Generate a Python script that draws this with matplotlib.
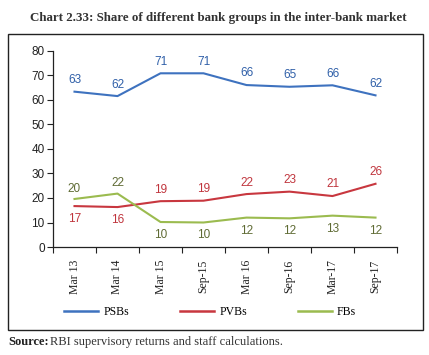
import matplotlib
matplotlib.use("Agg")
import matplotlib.pyplot as plt
from matplotlib.patches import Rectangle
from matplotlib.lines import Line2D

categories = ["Mar 13", "Mar 14", "Mar 15", "Sep-15", "Mar 16", "Sep-16", "Mar-17", "Sep-17"]
psb = [63.4, 61.6, 70.9, 70.9, 66.1, 65.4, 66.0, 61.9]
pvb = [16.7, 16.3, 18.7, 18.9, 21.6, 22.6, 20.8, 25.8]
fb = [19.6, 21.8, 10.2, 10.0, 12.0, 11.7, 12.8, 12.0]
psb_labels = [63, 62, 71, 71, 66, 65, 66, 62]
pvb_labels = [17, 16, 19, 19, 22, 23, 21, 26]
fb_labels = [20, 22, 10, 10, 12, 12, 13, 12]
yticks = [0, 10, 20, 30, 40, 50, 60, 70, 80]

c_psb = "#3e72bf"
c_pvb = "#c8373f"
c_fb = "#9bbb4f"
t_psb = "#2f5fa8"
t_pvb = "#c0353d"
t_fb = "#5f6b34"
serif = "Liberation Serif"

fig = plt.figure(figsize=(4.29, 3.55), dpi=100)
fig.patch.set_facecolor("white")

fig.text(0.508, 1 - 18 / 355, "Chart 2.33: Share of different bank groups in the inter-bank market",
         ha="center", va="center", fontsize=9.4, fontweight="bold",
         family=serif, color="#333333")

fig.patches.append(Rectangle((7.5 / 429, 1 - 329.5 / 355), (423 - 7.5) / 429, (329.5 - 33.5) / 355,
                             transform=fig.transFigure, fill=False, edgecolor="#222222", linewidth=1.0))

ax = fig.add_axes([53 / 429, 1 - 247 / 355, (397 - 53) / 429, (247 - 51) / 355])
x = list(range(len(categories)))
ax.plot(x, psb, color=c_psb, lw=1.5)
ax.plot(x, pvb, color=c_pvb, lw=1.5)
ax.plot(x, fb, color=c_fb, lw=1.5)

lab_font = dict(family="Liberation Sans", fontsize=8.5)
for i in x:
    ax.annotate(str(psb_labels[i]), (i, psb[i]), xytext=(0, 4), textcoords="offset points",
                ha="center", va="bottom", color=t_psb, **lab_font)
    if i < 2:
        ax.annotate(str(pvb_labels[i]), (i, pvb[i]), xytext=(0, -5), textcoords="offset points",
                    ha="center", va="top", color=t_pvb, **lab_font)
        ax.annotate(str(fb_labels[i]), (i, fb[i]), xytext=(0, 3), textcoords="offset points",
                    ha="center", va="bottom", color=t_fb, **lab_font)
    else:
        ax.annotate(str(pvb_labels[i]), (i, pvb[i]), xytext=(0, 4), textcoords="offset points",
                    ha="center", va="bottom", color=t_pvb, **lab_font)
        ax.annotate(str(fb_labels[i]), (i, fb[i]), xytext=(0, -5), textcoords="offset points",
                    ha="center", va="top", color=t_fb, **lab_font)

ax.set_xlim(-0.5, len(categories) - 0.5)
ax.set_ylim(0, 80)
ax.set_yticks(yticks)
ax.set_yticklabels([str(v) for v in yticks], family="Liberation Sans", fontsize=8.5, color="#222222")
ax.set_xticks([i - 0.5 for i in range(len(categories) + 1)])
ax.set_xticklabels([])
ax.set_xticks(x, minor=True)
ax.set_xticklabels(categories, minor=True, rotation=90, family=serif, fontsize=8.5, color="#222222")
ax.tick_params(axis="x", which="minor", length=0, pad=9)
ax.tick_params(axis="x", which="major", length=4, direction="out", color="#222222")
ax.tick_params(axis="y", length=4, direction="out", color="#222222", pad=2)
for s in ["top", "right"]:
    ax.spines[s].set_visible(False)
for s in ["left", "bottom"]:
    ax.spines[s].set_color("#222222")
    ax.spines[s].set_linewidth(0.9)

handles = [Line2D([], [], color=c_psb, lw=1.8), Line2D([], [], color=c_pvb, lw=1.8),
           Line2D([], [], color=c_fb, lw=1.8)]
fig.legend(handles, ["PSBs", "PVBs", "FBs"], loc="center", bbox_to_anchor=(0.49, 1 - 312 / 355),
           ncol=3, frameon=False, handlelength=2.9, columnspacing=4.35, handletextpad=0.4,
           prop=dict(family=serif, size=8.5))

fig.text(8 / 429, 1 - 342 / 355, "Source:", ha="left", va="center", fontsize=9,
         fontweight="bold", family=serif, color="#222222")
fig.text(50 / 429, 1 - 342 / 355, "RBI supervisory returns and staff calculations.", ha="left", va="center",
         fontsize=9, family=serif, color="#333333")

fig.savefig("out.png", dpi=100, facecolor="white")
